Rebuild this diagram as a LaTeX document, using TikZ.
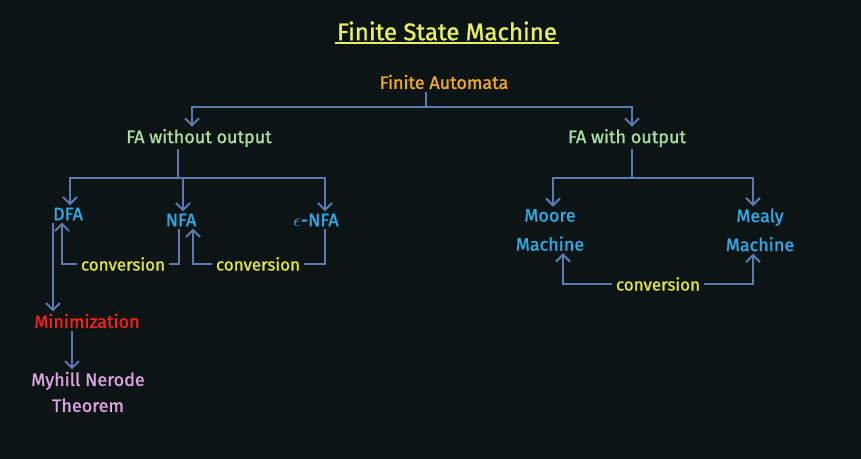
\documentclass[tikz,border=0pt]{standalone}
\usepackage{fontspec}
\setmainfont{Fira Sans}[FakeBold=1.2]
\usepackage{tikz}
\usetikzlibrary{arrows.meta,positioning,calc}
\definecolor{bgdark}{RGB}{12,20,22}
\definecolor{titleyel}{RGB}{230,240,96}
\definecolor{faorange}{RGB}{242,170,36}
\definecolor{fagreen}{RGB}{170,222,160}
\definecolor{autblue}{RGB}{48,170,228}
\definecolor{convyel}{RGB}{226,228,64}
\definecolor{minred}{RGB}{250,30,30}
\definecolor{thmpink}{RGB}{222,164,226}
\definecolor{linkblue}{RGB}{90,122,176}

\begin{document}
\begin{tikzpicture}[x=0.5pt,y=-0.5pt,
  txt/.style={inner sep=1pt,font=\fontsize{9}{14.5}\selectfont,align=center},
  conv/.style={txt,text=convyel,font=\fontsize{8.5}{10}\selectfont,inner sep=2pt},
  line/.style={draw=linkblue,line width=1pt},
  arr/.style={line,-{Straight Barb[length=3.5pt,width=7pt]}}
]
\fill[bgdark] (0,0) rectangle (861,459);
% headings
\node[txt,text=titleyel,font=\fontsize{12}{14}\selectfont] (title) at (447,31) {Finite State Machine};
\draw[titleyel,line width=1.2pt] (title.south west) -- (title.south east);
\node[txt,text=faorange] (fa) at (444,82) {Finite Automata};
\node[txt,text=fagreen] (fawo) at (199,138) {FA without output};
\node[txt,text=fagreen] (faw) at (627,138) {FA with output};
% without output
\node[txt,text=autblue] (dfa) at (68,214) {DFA};
\node[txt,text=autblue] (nfa) at (181,220) {NFA};
\node[txt,text=autblue] (enfa) at (316,220) {$\epsilon$-NFA};
\node[txt,text=minred] (minim) at (87,321) {Minimization};
\node[txt,text=thmpink,font=\fontsize{9}{13}\selectfont] (myhill) at (88,392) {Myhill Nerode\\Theorem};
% with output
\node[txt,text=autblue] (moore) at (550,230) {Moore\\Machine};
\node[txt,text=autblue] (mealy) at (760,230) {Mealy\\Machine};
% conversions
\node[conv] (conv1) at (123,264) {conversion};
\node[conv] (conv2) at (258,264) {conversion};
\node[conv] (conv3) at (658,284) {conversion};

\coordinate (ja) at (426,107);
\coordinate (jb) at (178,178);
\coordinate (jc) at (632,178);
\draw[line] (fa.south -| ja) -- (ja);
\draw[arr] (ja) -| ($(fawo.north)+(-7,0)$);
\draw[arr] (ja) -| ($(faw.north)+(5,0)$);

\draw[line] (fawo.south -| jb) -- (jb);
\draw[arr] (jb) -| ($(dfa.north)+(2,0)$);
\draw[arr] (jb) -| ($(nfa.north)+(2,0)$);
\draw[arr] (jb) -| ($(enfa.north)+(9,0)$);

\draw[line] (faw.south -| jc) -- (jc);
\draw[arr] (jc) -| ($(moore.north)+(3,0)$);
\draw[arr] (jc) -| ($(mealy.north)+(-7,0)$);

\draw[line] ($(nfa.south)+(-2,0)$) |- (conv1.east);
\draw[arr] (conv1.west) -| ($(dfa.south)+(-6,0)$);
\draw[line] ($(enfa.south)+(9,0)$) |- (conv2.east);
\draw[arr] (conv2.west) -| ($(nfa.south)+(12,0)$);
\draw[arr] (conv3.east) -| ($(mealy.south)+(-7,0)$);
\draw[arr] (conv3.west) -| ($(moore.south)+(13,0)$);

\coordinate (dl) at ($(dfa.south)+(-15,0)$);
\draw[arr] (dl) -- (dl |- minim.north);
\coordinate (ml) at ($(minim.south)+(-15,0)$);
\draw[arr] (ml) -- (ml |- myhill.north);
\end{tikzpicture}
\end{document}
